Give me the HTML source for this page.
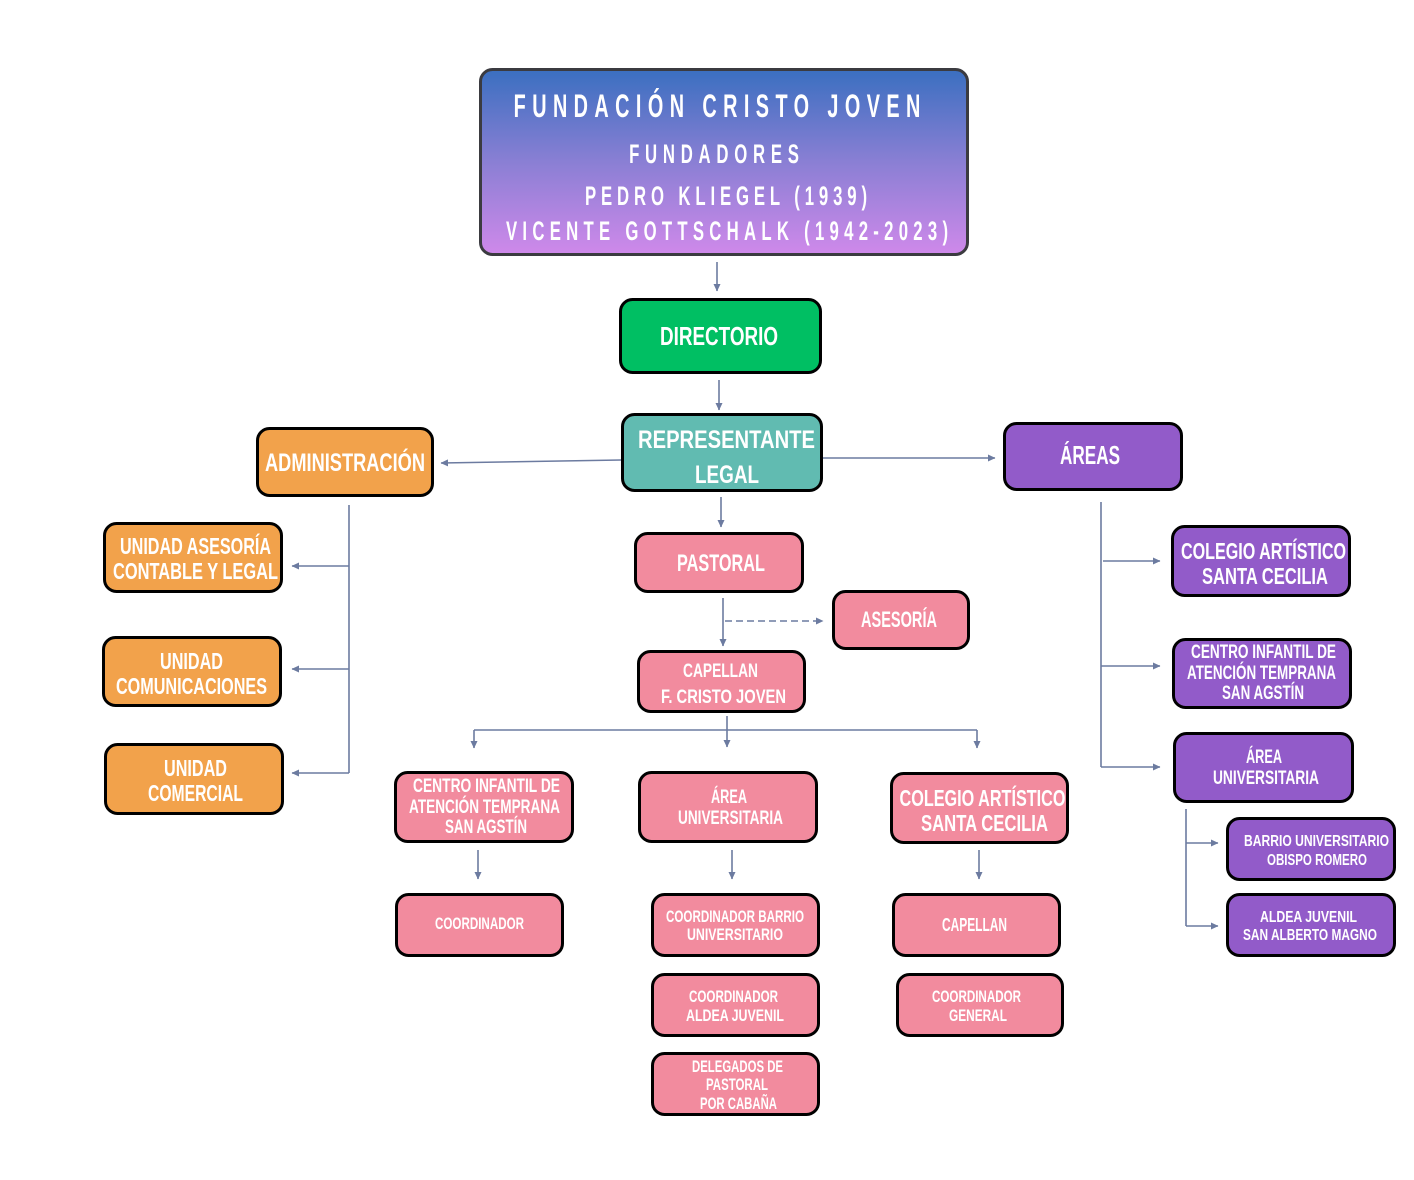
<!DOCTYPE html>
<html><head><meta charset="utf-8"><style>
html,body{margin:0;padding:0;background:#fff;}
svg{display:block;}
text{font-family:"Liberation Sans Narrow","Liberation Sans",sans-serif;font-weight:bold;fill:#fff;}
</style></head><body>
<svg width="1414" height="1180" viewBox="0 0 1414 1180" xmlns="http://www.w3.org/2000/svg">
<defs>
<linearGradient id="g" x1="0" y1="0" x2="0" y2="1">
<stop offset="0" stop-color="#3a6fc0"/><stop offset="0.5" stop-color="#8a7fd4"/><stop offset="1" stop-color="#cf89ea"/>
</linearGradient>
<marker id="a" markerUnits="userSpaceOnUse" markerWidth="8" markerHeight="8" refX="7" refY="4" orient="auto">
<path d="M0,0.5 L7.5,4 L0,7.5 z" fill="#6c7ba0"/>
</marker>
</defs>

<!-- connectors -->
<g stroke="#6c7ba0" stroke-width="1.6" fill="none">
<path d="M717,262 L717,291" marker-end="url(#a)"/>
<path d="M719,380 L719,410" marker-end="url(#a)"/>
<path d="M621,460 L441,463" marker-end="url(#a)"/>
<path d="M823,458 L995,458" marker-end="url(#a)"/>
<path d="M721,497 L721,527" marker-end="url(#a)"/>
<path d="M723,598 L723,646" marker-end="url(#a)"/>
<path d="M725,621 L823,621" stroke-dasharray="7,4" marker-end="url(#a)"/>
<path d="M727,716 L727,747" marker-end="url(#a)"/>
<path d="M474,730 L977,730"/>
<path d="M474,730 L474,748" marker-end="url(#a)"/>
<path d="M977,730 L977,748" marker-end="url(#a)"/>
<path d="M478,850 L478,879" marker-end="url(#a)"/>
<path d="M732,850 L732,879" marker-end="url(#a)"/>
<path d="M979,850 L979,879" marker-end="url(#a)"/>
<path d="M349,505 L349,773"/>
<path d="M349,566 L292,566" marker-end="url(#a)"/>
<path d="M349,669 L292,669" marker-end="url(#a)"/>
<path d="M349,773 L292,773" marker-end="url(#a)"/>
<path d="M1101,502 L1101,767"/>
<path d="M1103,561 L1160,561" marker-end="url(#a)"/>
<path d="M1101,666 L1160,666" marker-end="url(#a)"/>
<path d="M1101,767 L1160,767" marker-end="url(#a)"/>
<path d="M1186,809 L1186,926"/>
<path d="M1186,843 L1218,843" marker-end="url(#a)"/>
<path d="M1186,926 L1218,926" marker-end="url(#a)"/>
</g>

<!-- top box -->
<rect x="480.5" y="69.5" width="487" height="185" rx="12" fill="url(#g)" stroke="#3b3b40" stroke-width="3"/>
<g transform="translate(717,0) scale(0.62,1)">
<text x="0" y="117" font-size="32" text-anchor="middle" textLength="656" lengthAdjust="spacing">FUNDACIÓN CRISTO JOVEN</text>
</g>
<g transform="translate(714,0) scale(0.62,1)">
<text x="0" y="163" font-size="27" text-anchor="middle" textLength="274" lengthAdjust="spacing">FUNDADORES</text>
</g>
<g transform="translate(726,0) scale(0.62,1)">
<text x="0" y="205" font-size="27" text-anchor="middle" textLength="455" lengthAdjust="spacing">PEDRO KLIEGEL (1939)</text>
</g>
<g transform="translate(727,0) scale(0.62,1)">
<text x="0" y="240" font-size="27" text-anchor="middle" textLength="713" lengthAdjust="spacing">VICENTE GOTTSCHALK (1942-2023)</text>
</g>

<g stroke="#000" stroke-width="3">
<rect x="620.5" y="299.5" width="200" height="73" rx="12" fill="#00bf63"/>
<rect x="622.5" y="414.5" width="199" height="76" rx="12" fill="#61bbb1"/>
<rect x="257.5" y="428.5" width="175" height="67" rx="12" fill="#f2a24b"/>
<rect x="1004.5" y="423.5" width="177" height="66" rx="12" fill="#925bc9"/>
<rect x="104.5" y="523.5" width="177" height="68" rx="12" fill="#f2a24b"/>
<rect x="103.5" y="637.5" width="177" height="68" rx="12" fill="#f2a24b"/>
<rect x="105.5" y="744.5" width="177" height="69" rx="12" fill="#f2a24b"/>
<rect x="635.5" y="533.5" width="167" height="58" rx="12" fill="#f28b9e"/>
<rect x="833.5" y="591.5" width="135" height="57" rx="12" fill="#f28b9e"/>
<rect x="638.5" y="651.5" width="166" height="60" rx="12" fill="#f28b9e"/>
<rect x="395.5" y="772.5" width="177" height="69" rx="12" fill="#f28b9e"/>
<rect x="639.5" y="772.5" width="177" height="69" rx="12" fill="#f28b9e"/>
<rect x="891.5" y="773.5" width="176" height="69" rx="12" fill="#f28b9e"/>
<rect x="396.5" y="894.5" width="166" height="61" rx="12" fill="#f28b9e"/>
<rect x="652.5" y="894.5" width="166" height="61" rx="12" fill="#f28b9e"/>
<rect x="652.5" y="974.5" width="166" height="61" rx="12" fill="#f28b9e"/>
<rect x="652.5" y="1053.5" width="166" height="61" rx="12" fill="#f28b9e"/>
<rect x="893.5" y="894.5" width="166" height="61" rx="12" fill="#f28b9e"/>
<rect x="897.5" y="974.5" width="165" height="61" rx="12" fill="#f28b9e"/>
<rect x="1172.5" y="526.5" width="177" height="69" rx="12" fill="#925bc9"/>
<rect x="1173.5" y="639.5" width="177" height="68" rx="12" fill="#925bc9"/>
<rect x="1174.5" y="733.5" width="178" height="68" rx="12" fill="#925bc9"/>
<rect x="1227.5" y="818.5" width="167" height="61" rx="12" fill="#925bc9"/>
<rect x="1227.5" y="894.5" width="167" height="61" rx="12" fill="#925bc9"/>
</g>

<text x="719" y="345" font-size="26" text-anchor="middle" textLength="118" lengthAdjust="spacingAndGlyphs">DIRECTORIO</text>
<text x="726.5" y="448" font-size="25" text-anchor="middle" textLength="177" lengthAdjust="spacingAndGlyphs">REPRESENTANTE</text>
<text x="727" y="483" font-size="25" text-anchor="middle" textLength="64" lengthAdjust="spacingAndGlyphs">LEGAL</text>
<text x="345" y="471" font-size="25" text-anchor="middle" textLength="160" lengthAdjust="spacingAndGlyphs">ADMINISTRACIÓN</text>
<text x="1090" y="464" font-size="26" text-anchor="middle" textLength="60" lengthAdjust="spacingAndGlyphs">ÁREAS</text>

<text x="195.5" y="554" font-size="23" text-anchor="middle" textLength="151" lengthAdjust="spacingAndGlyphs">UNIDAD ASESORÍA</text>
<text x="195.5" y="579" font-size="23" text-anchor="middle" textLength="165" lengthAdjust="spacingAndGlyphs">CONTABLE Y LEGAL</text>
<text x="191.5" y="669" font-size="23" text-anchor="middle" textLength="63" lengthAdjust="spacingAndGlyphs">UNIDAD</text>
<text x="191.5" y="694" font-size="23" text-anchor="middle" textLength="151" lengthAdjust="spacingAndGlyphs">COMUNICACIONES</text>
<text x="195.5" y="776" font-size="23" text-anchor="middle" textLength="63" lengthAdjust="spacingAndGlyphs">UNIDAD</text>
<text x="195.5" y="801" font-size="23" text-anchor="middle" textLength="95" lengthAdjust="spacingAndGlyphs">COMERCIAL</text>

<text x="721" y="571" font-size="24" text-anchor="middle" textLength="88" lengthAdjust="spacingAndGlyphs">PASTORAL</text>
<text x="899" y="627" font-size="22" text-anchor="middle" textLength="76" lengthAdjust="spacingAndGlyphs">ASESORÍA</text>
<text x="720.5" y="677" font-size="19" text-anchor="middle" textLength="75" lengthAdjust="spacingAndGlyphs">CAPELLAN</text>
<text x="723.5" y="703" font-size="19" text-anchor="middle" textLength="125" lengthAdjust="spacingAndGlyphs">F. CRISTO JOVEN</text>

<text x="486.5" y="792" font-size="19" text-anchor="middle" textLength="147" lengthAdjust="spacingAndGlyphs">CENTRO INFANTIL DE</text>
<text x="484.5" y="813" font-size="19" text-anchor="middle" textLength="151" lengthAdjust="spacingAndGlyphs">ATENCIÓN TEMPRANA</text>
<text x="486" y="833" font-size="19" text-anchor="middle" textLength="82" lengthAdjust="spacingAndGlyphs">SAN AGSTÍN</text>
<text x="729" y="803" font-size="19" text-anchor="middle" textLength="36" lengthAdjust="spacingAndGlyphs">ÁREA</text>
<text x="730.5" y="824" font-size="19" text-anchor="middle" textLength="105" lengthAdjust="spacingAndGlyphs">UNIVERSITARIA</text>
<text x="982.5" y="806" font-size="23" text-anchor="middle" textLength="166" lengthAdjust="spacingAndGlyphs">COLEGIO ARTÍSTICO</text>
<text x="984.5" y="831" font-size="23" text-anchor="middle" textLength="127" lengthAdjust="spacingAndGlyphs">SANTA CECILIA</text>

<text x="479.5" y="929" font-size="17" text-anchor="middle" textLength="89" lengthAdjust="spacingAndGlyphs">COORDINADOR</text>
<text x="735" y="922" font-size="17" text-anchor="middle" textLength="138" lengthAdjust="spacingAndGlyphs">COORDINADOR BARRIO</text>
<text x="735" y="940" font-size="17" text-anchor="middle" textLength="96" lengthAdjust="spacingAndGlyphs">UNIVERSITARIO</text>
<text x="733.5" y="1002" font-size="17" text-anchor="middle" textLength="89" lengthAdjust="spacingAndGlyphs">COORDINADOR</text>
<text x="735" y="1021" font-size="17" text-anchor="middle" textLength="98" lengthAdjust="spacingAndGlyphs">ALDEA JUVENIL</text>
<text x="737.5" y="1072" font-size="17" text-anchor="middle" textLength="91" lengthAdjust="spacingAndGlyphs">DELEGADOS DE</text>
<text x="737" y="1090" font-size="17" text-anchor="middle" textLength="62" lengthAdjust="spacingAndGlyphs">PASTORAL</text>
<text x="738.5" y="1109" font-size="17" text-anchor="middle" textLength="77" lengthAdjust="spacingAndGlyphs">POR CABAÑA</text>
<text x="974.5" y="931" font-size="18" text-anchor="middle" textLength="65" lengthAdjust="spacingAndGlyphs">CAPELLAN</text>
<text x="976.5" y="1002" font-size="17" text-anchor="middle" textLength="89" lengthAdjust="spacingAndGlyphs">COORDINADOR</text>
<text x="978" y="1021" font-size="17" text-anchor="middle" textLength="58" lengthAdjust="spacingAndGlyphs">GENERAL</text>

<text x="1263.5" y="559" font-size="23" text-anchor="middle" textLength="165" lengthAdjust="spacingAndGlyphs">COLEGIO ARTÍSTICO</text>
<text x="1265" y="584" font-size="23" text-anchor="middle" textLength="126" lengthAdjust="spacingAndGlyphs">SANTA CECILIA</text>
<text x="1263.5" y="658" font-size="19" text-anchor="middle" textLength="145" lengthAdjust="spacingAndGlyphs">CENTRO INFANTIL DE</text>
<text x="1261.5" y="679" font-size="19" text-anchor="middle" textLength="149" lengthAdjust="spacingAndGlyphs">ATENCIÓN TEMPRANA</text>
<text x="1263" y="699" font-size="19" text-anchor="middle" textLength="82" lengthAdjust="spacingAndGlyphs">SAN AGSTÍN</text>
<text x="1264" y="763" font-size="19" text-anchor="middle" textLength="36" lengthAdjust="spacingAndGlyphs">ÁREA</text>
<text x="1266" y="784" font-size="19" text-anchor="middle" textLength="106" lengthAdjust="spacingAndGlyphs">UNIVERSITARIA</text>
<text x="1316.5" y="846" font-size="16" text-anchor="middle" textLength="145" lengthAdjust="spacingAndGlyphs">BARRIO UNIVERSITARIO</text>
<text x="1317" y="865" font-size="16" text-anchor="middle" textLength="100" lengthAdjust="spacingAndGlyphs">OBISPO ROMERO</text>
<text x="1308.5" y="922" font-size="16" text-anchor="middle" textLength="97" lengthAdjust="spacingAndGlyphs">ALDEA JUVENIL</text>
<text x="1310" y="940" font-size="16" text-anchor="middle" textLength="134" lengthAdjust="spacingAndGlyphs">SAN ALBERTO MAGNO</text>
</svg>
</body></html>
